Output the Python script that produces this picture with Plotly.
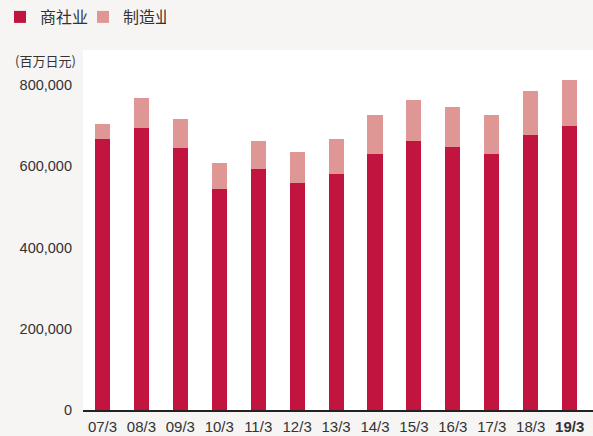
import plotly.graph_objects as go

categories = ["07/3", "08/3", "09/3", "10/3", "11/3", "12/3", "13/3",
              "14/3", "15/3", "16/3", "17/3", "18/3", "19/3"]
trading = [666000, 693000, 646000, 545000, 594000, 558000, 580000,
           631000, 663000, 648000, 629000, 678000, 700000]
total = [705000, 767000, 717000, 607000, 663000, 634000, 668000,
         727000, 764000, 745000, 726000, 786000, 811000]
manufacturing = [t - s for t, s in zip(total, trading)]
tick_labels = categories[:-1] + ["<b>19/3</b>"]
y_ticks = [0, 200000, 400000, 600000, 800000]

DARK = "#c1153f"
LIGHT = "#df9795"
TEXT = "#333333"
FONT = "Liberation Sans, Arial, Noto Sans CJK SC, sans-serif"
CJK = "Noto Sans CJK SC, sans-serif"

fig = go.Figure()
fig.add_trace(go.Bar(x=categories, y=trading, name="商社业",
                     marker=dict(color=DARK, line=dict(width=0)), width=0.386))
fig.add_trace(go.Bar(x=categories, y=manufacturing, name="制造业",
                     marker=dict(color=LIGHT, line=dict(width=0)), width=0.386))

fig.update_layout(
    barmode="stack",
    width=593, height=436,
    margin=dict(l=83, r=0, t=50, b=26, pad=0),
    paper_bgcolor="#f6f5f3",
    plot_bgcolor="#ffffff",
    font=dict(family=FONT, size=14, color=TEXT),
    showlegend=True,
    legend=dict(orientation="h", x=-0.005, y=1, xref="container", yref="container",
                xanchor="left", yanchor="top", bgcolor="rgba(0,0,0,0)",
                font=dict(size=16, color=TEXT, family=CJK),
                traceorder="normal", itemwidth=30, entrywidth=38),
    xaxis=dict(type="category", range=[-0.5, 12.6], tickmode="array",
               tickvals=categories, ticktext=tick_labels,
               showline=True, linecolor="#222222", linewidth=1.5,
               ticks="", showgrid=False, zeroline=False,
               ticklabelstandoff=2,
               tickfont=dict(size=15, color=TEXT)),
    yaxis=dict(range=[0, 886000], tickvals=y_ticks, tickformat=",d",
               showgrid=False, zeroline=False, showline=False, ticks="",
               ticklabelstandoff=10, tickfont=dict(size=14.5, color=TEXT)),
    annotations=[dict(text="(百万日元)", xref="paper", yref="paper",
                      x=-0.137, y=0.972, xanchor="left", yanchor="middle",
                      showarrow=False,
                      font=dict(size=13, color=TEXT, family=CJK))],
)

fig.write_html("out.html", config={"displayModeBar": False},
               post_script="document.body.style.margin='0';document.body.style.overflow='hidden';")
